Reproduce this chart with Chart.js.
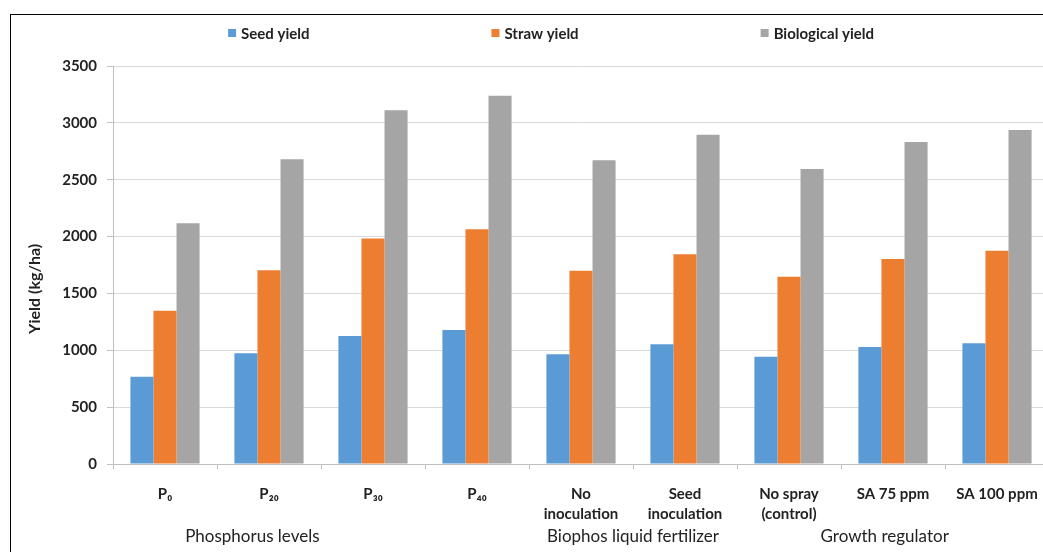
<!DOCTYPE html>
<html lang="en">
<head>
    <meta charset="UTF-8">
    <title>Yield chart</title>
    <script src="https://cdn.jsdelivr.net/npm/chart.js@4.4.0/dist/chart.umd.min.js"></script>
    <style>
        html, body { margin: 0; padding: 0; background: #fff; overflow: hidden; }
        #wrap { position: relative; width: 1060px; height: 552px; }
        #frame { position: absolute; left: 10px; top: 14px; width: 1100px; height: 600px;
                 border: 1px solid #000; pointer-events: none; }
    </style>
</head>
<body>
    <div id="wrap">
        <canvas id="yield-chart"></canvas>
        <div id="frame"></div>
    </div>

    <script>
        // data (kg/ha)
        const categories = [
            'P₀', 'P₂₀', 'P₃₀', 'P₄₀',
            ['No', 'inoculation'], ['Seed', 'inoculation'],
            ['No spray', '(control)'], 'SA 75 ppm', 'SA 100 ppm'
        ];
        const seedYield = [768, 973, 1126, 1178, 965, 1053, 944, 1029, 1062];
        const strawYield = [1348, 1703, 1982, 2064, 1700, 1844, 1647, 1803, 1876];
        const biologicalYield = [2117, 2680, 3111, 3239, 2671, 2896, 2594, 2832, 2937];
        const yTicks = [0, 500, 1000, 1500, 2000, 2500, 3000, 3500];
        // factor group captions and the (fractional) category index they sit under
        const groupLabels = ['Phosphorus levels', 'Biophos liquid fertilizer', 'Growth regulator'];
        const groupPositions = [0.84, 4.5, 6.92];

        const FONT = 'Lato, "Open Sans", sans-serif';
        const TEXT = '#222';

        // legend + group captions + axis title drawn by hand
        const extras = {
            id: 'extras',
            afterDraw(chart) {
                const ctx = chart.ctx;
                const area = chart.chartArea;
                ctx.save();

                // legend
                ctx.font = 'bold 15px ' + FONT;
                ctx.textBaseline = 'middle';
                ctx.textAlign = 'left';
                const box = 8, gapText = 5, gapItem = 182;
                const items = chart.data.datasets.map(ds => ({
                    label: ds.label, color: ds.backgroundColor,
                    w: box + gapText + ctx.measureText(ds.label).width
                }));
                const total = items.reduce((s, it) => s + it.w, 0) + gapItem * (items.length - 1);
                let x = area.left + (area.right - area.left) * 0.468 - total / 2;
                const ly = 34;
                items.forEach(it => {
                    ctx.fillStyle = it.color;
                    ctx.fillRect(x, ly - box / 2 - 1, box, box);
                    ctx.fillStyle = TEXT;
                    ctx.fillText(it.label, x + box + gapText, ly);
                    x += it.w + gapItem;
                });

                // group captions
                const xs = chart.scales.x;
                ctx.font = '17px ' + FONT;
                ctx.textAlign = 'center';
                groupLabels.forEach((g, i) => {
                    ctx.fillText(g, xs.getPixelForValue(groupPositions[i]), 537);
                });

                // y axis title
                ctx.font = 'bold 16px ' + FONT;
                ctx.translate(35, area.top + (area.bottom - area.top) * 0.56);
                ctx.rotate(-Math.PI / 2);
                ctx.fillText('Yield (kg/ha)', 0, 0);
                ctx.restore();
            }
        };

        const ctx = document.getElementById('yield-chart').getContext('2d');
        new Chart(ctx, {
            type: 'bar',
            data: {
                labels: categories,
                datasets: [
                    { label: 'Seed yield', data: seedYield, backgroundColor: '#5B9BD5' },
                    { label: 'Straw yield', data: strawYield, backgroundColor: '#ED7D31' },
                    { label: 'Biological yield', data: biologicalYield, backgroundColor: '#A5A5A5' }
                ]
            },
            options: {
                responsive: true,
                maintainAspectRatio: false,
                animation: false,
                layout: { padding: { top: 66, right: 11, left: 0, bottom: 0 } },
                datasets: {
                    bar: { categoryPercentage: 0.665, barPercentage: 1.0, borderWidth: 0 }
                },
                plugins: {
                    legend: { display: false },
                    tooltip: { enabled: false }
                },
                scales: {
                    x: {
                        afterFit(scale) { scale.height = 88; },
                        grid: { drawOnChartArea: false, drawTicks: true, tickLength: 5, color: '#bfbfbf' },
                        border: { color: '#bfbfbf' },
                        ticks: {
                            color: TEXT, padding: 15, maxRotation: 0, autoSkip: false,
                            font: { family: FONT, size: 15, weight: 'bold', lineHeight: 1.33 }
                        }
                    },
                    y: {
                        min: 0, max: 3500,
                        afterFit(scale) { scale.width = 113; },
                        afterBuildTicks(scale) { scale.ticks = yTicks.map(v => ({ value: v })); },
                        grid: { color: '#d9d9d9', tickLength: 6, tickColor: '#bfbfbf' },
                        border: { color: '#bfbfbf' },
                        ticks: {
                            color: TEXT, padding: 10,
                            callback: v => String(v),
                            font: { family: FONT, size: 15, weight: 'bold' }
                        }
                    }
                }
            },
            plugins: [extras]
        });
    </script>
</body>
</html>
